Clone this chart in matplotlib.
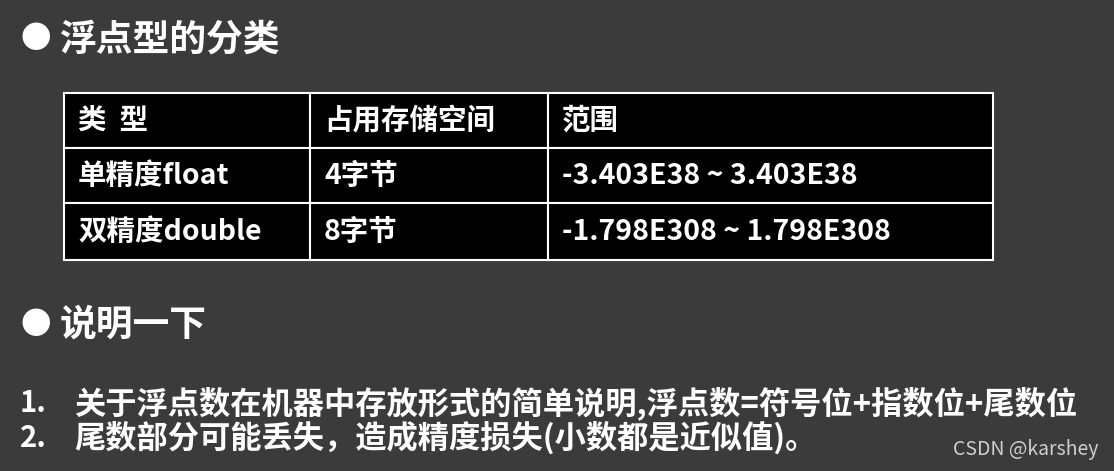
import matplotlib.pyplot as plt
from matplotlib.patches import Rectangle

plt.rcParams['font.family'] = ['Noto Sans CJK SC', 'DejaVu Sans']

# slide content
title1 = '浮点型的分类'
title2 = '说明一下'
header = ['类  型', '占用存储空间', '范围']
rows = [
    ['单精度float', '4字节', '-3.403E38 ~ 3.403E38'],
    ['双精度double', '8字节', '-1.798E308 ~ 1.798E308'],
]
notes = [
    '关于浮点数在机器中存放形式的简单说明,浮点数=符号位+指数位+尾数位',
    '尾数部分可能丢失，造成精度损失(小数都是近似值)。',
]
watermark = 'CSDN @karshey'

# table geometry in pixels
col_edges = [64, 310, 548, 993]
row_edges = [93, 148, 203, 260]

fig = plt.figure(figsize=(11.14, 4.71), dpi=100)
fig.patch.set_facecolor('#3b3b3b')
ax = fig.add_axes([0, 0, 1, 1])
ax.set_xlim(0, 1114)
ax.set_ylim(471, 0)
ax.axis('off')

# bullet headings
for y, txt in [(40, title1), (325, title2)]:
    ax.text(20, y, '●', color='white', fontsize=22, va='center', ha='left')
    ax.text(60, y, txt, color='white', fontsize=26.5, fontweight='bold', va='center', ha='left')

# table cells
for r, cells in enumerate([header] + rows):
    for c, txt in enumerate(cells):
        x0, x1 = col_edges[c], col_edges[c + 1]
        y0, y1 = row_edges[r], row_edges[r + 1]
        ax.add_patch(Rectangle((x0, y0), x1 - x0, y1 - y0, facecolor='black',
                               edgecolor='white', linewidth=1.5))
        ax.text(x0 + 14, (y0 + y1) / 2, txt, color='white', fontsize=20.5,
                fontweight='bold', va='center', ha='left')

# numbered notes
for i, (y, txt) in enumerate(zip([403, 438], notes)):
    ax.text(20, y, f'{i + 1}.', color='white', fontsize=21, fontweight='bold', va='center')
    ax.text(74, y, txt, color='white', fontsize=22.5, fontweight='bold', va='center')

ax.text(1098, 449, watermark, color='#cfcfcf', fontsize=14, va='center', ha='right')

fig.savefig('out.png', dpi=100, facecolor=fig.get_facecolor())
